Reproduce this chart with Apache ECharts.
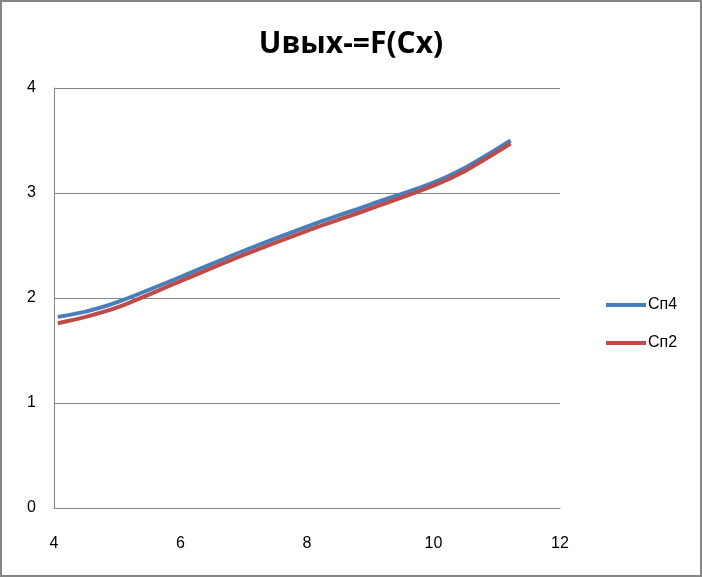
<!DOCTYPE html>
<html><head><meta charset="utf-8">
<script src="https://cdn.jsdelivr.net/npm/echarts@6/dist/echarts.min.js"></script>
<style>html,body{margin:0;padding:0;background:#fff}#c{width:702px;height:577px}</style>
</head><body><div id="c"></div>
<script>
const xValues = [4.06, 4.5, 5, 6, 7, 8, 9, 10, 10.5, 11.22];
const sp4 = [1.82, 1.87, 1.96, 2.20, 2.45, 2.68, 2.89, 3.10, 3.24, 3.50];
const sp2 = [1.76, 1.82, 1.91, 2.16, 2.41, 2.64, 2.85, 3.07, 3.21, 3.47];
const seriesNames = ['Сп4', 'Сп2'];
const titleText = 'Uвых-=F(Cx)';

const chart = echarts.init(document.getElementById('c'));
const font = 'Liberation Sans, Arial, sans-serif';
chart.setOption({
  animation: false,
  backgroundColor: '#fff',
  title: {text: titleText, left: 'center', top: 24,
    textStyle: {fontFamily: 'Open Sans, Noto Sans, sans-serif', fontWeight: 'bold', fontSize: 30, color: '#000'}},
  graphic: [{type: 'rect', shape: {x: 1, y: 1, width: 700, height: 575},
    style: {fill: 'none', stroke: '#868686', lineWidth: 2}, silent: true}],
  legend: {orient: 'vertical', left: 601, top: 292, itemGap: 22, itemWidth: 40, itemHeight: 4,
    icon: 'rect', textStyle: {fontFamily: font, fontSize: 16, color: '#000', padding: [0,0,0,-3]},
    data: seriesNames},
  grid: {left: 54, right: 142, top: 88, bottom: 69},
  xAxis: {type: 'value', min: 4, max: 12, interval: 2,
    axisLine: {show: true, lineStyle: {color: '#868686', width: 1}},
    axisTick: {show: false}, splitLine: {show: false},
    axisLabel: {margin: 28, fontFamily: font, fontSize: 16, color: '#000'}},
  yAxis: {type: 'value', min: 0, max: 4, interval: 1,
    axisLine: {show: true, lineStyle: {color: '#868686', width: 1}},
    axisTick: {show: false},
    splitLine: {show: true, lineStyle: {color: '#868686', width: 1}},
    axisLabel: {margin: 18, fontFamily: font, fontSize: 16, color: '#000'}},
  series: [
    {name: seriesNames[0], type: 'line', smooth: 0.3, symbol: 'none',
     data: xValues.map((x, i) => [x, sp4[i]]),
     lineStyle: {color: '#4a7ebb', width: 4}, itemStyle: {color: '#4a7ebb'}},
    {name: seriesNames[1], type: 'line', smooth: 0.3, symbol: 'none',
     data: xValues.map((x, i) => [x, sp2[i]]),
     lineStyle: {color: '#be4b48', width: 4}, itemStyle: {color: '#be4b48'}}
  ]
});
</script></body></html>
